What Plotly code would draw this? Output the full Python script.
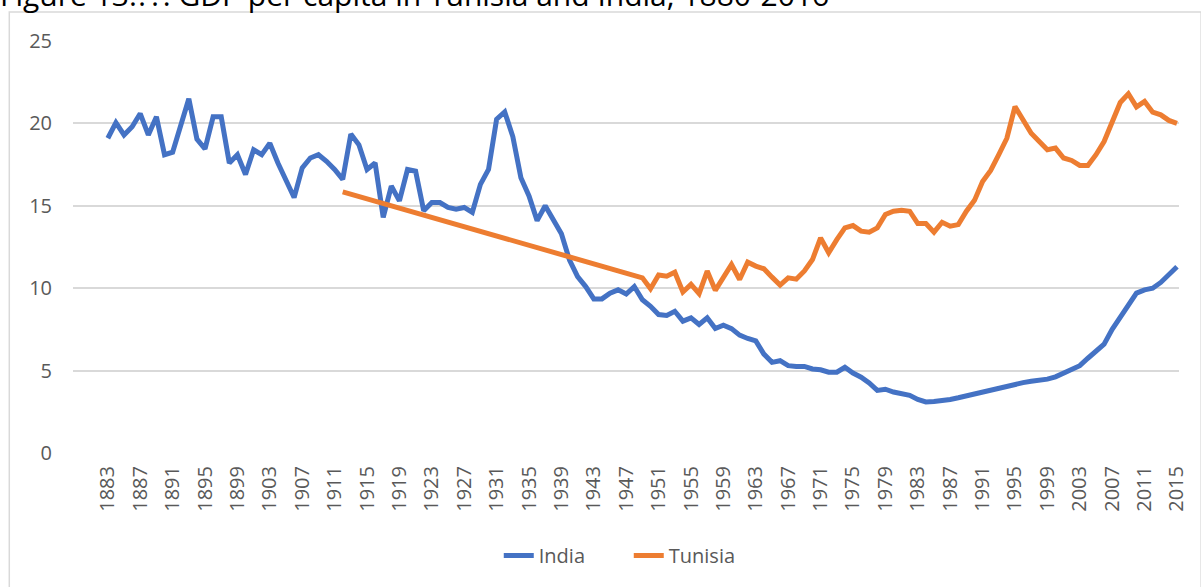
import plotly.graph_objects as go

# --- data ---
india_years = list(range(1883, 2016))
india_values = [
    19.1, 20.05, 19.3, 19.8, 20.6, 19.3, 20.4, 18.1, 18.25, 20.0,      # 1883-1892
    21.5, 19.05, 18.45, 20.4, 20.4, 17.6, 18.1, 16.9, 18.4, 18.1,      # 1893-1902
    18.8, 17.6, 16.5, 15.5, 17.3, 17.9, 18.1, 17.7, 17.2, 16.6,        # 1903-1912
    19.35, 18.7, 17.2, 17.6, 14.3, 16.2, 15.3, 17.2, 17.1, 14.7,       # 1913-1922
    15.2, 15.2, 14.9, 14.8, 14.9, 14.6, 16.3, 17.2, 20.25, 20.7,       # 1923-1932
    19.2, 16.7, 15.6, 14.1, 15.0, 14.2, 13.3, 11.7, 10.7, 10.1,        # 1933-1942
    9.35, 9.35, 9.7, 9.9, 9.65, 10.1, 9.3, 8.9, 8.4, 8.35,             # 1943-1952
    8.6, 8.0, 8.2, 7.8, 8.2, 7.55, 7.75, 7.55, 7.15, 6.95,             # 1953-1962
    6.8, 6.0, 5.5, 5.6, 5.3, 5.25, 5.25, 5.1, 5.05, 4.9,               # 1963-1972
    4.9, 5.2, 4.85, 4.6, 4.25, 3.8, 3.87, 3.7, 3.62, 3.5,              # 1973-1982
    3.25, 3.1, 3.12, 3.15, 3.25, 3.35, 3.47, 3.6, 3.68, 3.83,          # 1983-1992
    3.93, 4.1, 4.2, 4.27, 4.35, 4.4, 4.48, 4.62, 4.85, 5.1,            # 1993-2002
    5.3, 5.75, 6.2, 6.6, 7.5, 8.2, 9.0, 9.7, 9.9, 10.0,                # 2003-2012
    10.35, 10.8, 11.3,                                                 # 2013-2015
]

# Tunisia: one early point (1912), then nothing until 1949 -> Excel joins the gap
tunisia_years = [1912] + list(range(1949, 2016))
tunisia_values = [
    15.85,
    10.63, 9.97, 10.8, 10.73, 10.97, 9.77, 10.23, 9.67, 11.04, 9.87,   # 1949-1958
    10.73, 11.44, 10.53, 11.58, 11.34, 11.18, 10.67, 10.19, 10.63, 10.55,  # 1959-1968
    11.05, 11.74, 13.05, 12.15, 12.95, 13.66, 13.8, 13.46, 13.4, 13.66,  # 1969-1978
    14.47, 14.67, 14.73, 14.67, 13.92, 13.92, 13.4, 14.0, 13.76, 13.86,  # 1979-1988
    14.67, 15.33, 16.48, 17.15, 18.1, 19.1, 21.02, 20.2, 19.4, 18.9,   # 1989-1998
    18.4, 18.5, 17.9, 17.75, 17.45, 17.45, 18.1, 18.9, 20.1, 21.27,    # 1999-2008
    21.8, 21.0, 21.33, 20.68, 20.52, 20.18, 20.0,                      # 2009-2015
]

tick_years = list(range(1883, 2016, 4))
y_ticks = [0, 5, 10, 15, 20, 25]

title_text = "Figure 13.??: GDP per capita in Tunisia and India, 1880-2016"

blue = "#4472C4"
orange = "#ED7D31"
grey_text = "#595959"
font = "Open Sans"

fig = go.Figure()
fig.add_trace(go.Scatter(x=india_years, y=india_values, name="India", mode="lines",
                         line=dict(color=blue, width=5)))
fig.add_trace(go.Scatter(x=tunisia_years, y=tunisia_values, name="Tunisia", mode="lines",
                         connectgaps=True, line=dict(color=orange, width=5)))

# chart border (Excel chart area)
fig.add_shape(type="rect", xref="paper", yref="paper",
              x0=-0.0576, x1=1.02, y0=-0.34, y1=1.0702,
              line=dict(color="#d9d9d9", width=1.5), layer="below")

# title, cut off at the top of the picture
fig.add_annotation(text=title_text, xref="paper", yref="paper",
                   x=-0.068, y=1.0587, xanchor="left", yanchor="bottom",
                   showarrow=False, font=dict(family=font, size=30, color="#000000"))

fig.update_layout(
    width=1201, height=587,
    margin=dict(l=73, r=17, t=41, b=133),
    paper_bgcolor="white", plot_bgcolor="white",
    font=dict(family=font, size=20, color=grey_text),
    showlegend=True,
    legend=dict(orientation="h", xanchor="center", yanchor="middle",
                x=0.5025, y=-0.249, entrywidth=85, entrywidthmode="pixels",
                font=dict(size=20, color=grey_text)),
)
fig.update_xaxes(range=[1878.7, 2015.25], tickvals=tick_years,
                 ticktext=[str(y) for y in tick_years], tickangle=-90,
                 showgrid=False, zeroline=False, showline=False, ticks="",
                 ticklabelstandoff=8, tickfont=dict(size=20, color=grey_text))
fig.update_yaxes(range=[0, 25], tickvals=y_ticks, showgrid=True,
                 gridcolor="#d9d9d9", gridwidth=1.5, zeroline=False,
                 showline=False, ticks="", ticklabelstandoff=20,
                 tickfont=dict(size=20, color=grey_text))

# page has a default body margin; remove it so the figure sits at the top-left corner
fig.write_html("out.html", config={"displayModeBar": False},
               post_script="document.body.style.margin='0';")
